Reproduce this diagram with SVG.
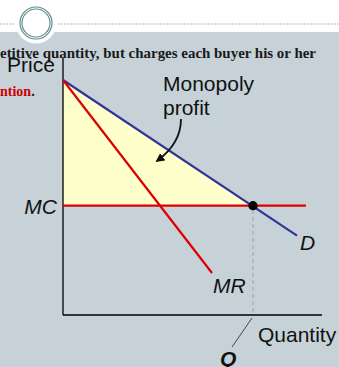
<svg xmlns="http://www.w3.org/2000/svg" width="339" height="367" viewBox="0 0 339 367">
<defs>
<style>
.lbl{font-family:"Liberation Sans",Arial,sans-serif;font-size:21px;fill:#111}
.it{font-style:italic}
.hdr{font-family:"Liberation Serif","Times New Roman",serif;font-weight:bold;font-size:14px;fill:#1a1a1a}
</style>
<marker id="ah" viewBox="0 0 10 10" refX="8" refY="5" markerWidth="5" markerHeight="5" orient="auto">
<path d="M0,0 L10,5 L0,10 z" fill="#111"/>
</marker>
</defs>
<rect x="0" y="0" width="339" height="367" fill="#ffffff"/>
<rect x="0" y="32" width="339" height="335" fill="#c6d1d8"/>
<g id="header">
<line x1="0" y1="24" x2="14" y2="24" stroke="#a9bdbf" stroke-width="1" stroke-dasharray="2,1"/>
<line x1="58" y1="24" x2="339" y2="24" stroke="#a9bdbf" stroke-width="1" stroke-dasharray="2,1"/>
<circle cx="36" cy="23" r="20.5" fill="#ffffff"/>
<circle cx="36" cy="23" r="16" fill="none" stroke="#5f8d8d" stroke-width="1.2"/>
<circle cx="36" cy="23" r="14" fill="none" stroke="#5f8d8d" stroke-width="1.2"/>
<text class="hdr" x="0" y="58" textLength="316" lengthAdjust="spacingAndGlyphs">etitive quantity, but charges each buyer his or her</text>
<text class="hdr" x="0" y="96" font-size="15"><tspan fill="#cc0000">ntion</tspan>.</text>
</g>
<g id="profit-area">
<polygon points="63,80 252,205.7 63,205.7" fill="#ffffcc"/>
</g>
<g id="connectors">
<line x1="253" y1="210" x2="253" y2="315" stroke="#9aa4ab" stroke-width="1" stroke-dasharray="4,3"/>
<line x1="63" y1="58" x2="63" y2="315" stroke="#000" stroke-width="1.3"/>
<line x1="63" y1="315" x2="322" y2="315" stroke="#000" stroke-width="1.3"/>
<line id="D" x1="63" y1="80" x2="297" y2="235.7" stroke="#333399" stroke-width="2.2"/>
<line id="MR" x1="63" y1="80" x2="212" y2="273" stroke="#dd0000" stroke-width="2.2"/>
<line id="MC" x1="63" y1="205.7" x2="306" y2="205.7" stroke="#dd0000" stroke-width="2.2"/>
<line x1="252" y1="318" x2="232" y2="347" stroke="#222" stroke-width="0.8"/>
<path d="M181,119 C181,136 172,150 157,161" fill="none" stroke="#111" stroke-width="1.8" marker-end="url(#ah)"/>
</g>
<g id="equilibrium">
<circle cx="253" cy="205.7" r="4.6" fill="#000"/>
</g>
<g id="labels">
<text class="lbl" x="7" y="72">Price</text>
<text class="lbl" x="163" y="91">Monopoly</text>
<text class="lbl" x="163" y="115">profit</text>
<text class="lbl it" x="57" y="214" text-anchor="end">MC</text>
<text class="lbl it" x="300" y="250">D</text>
<text class="lbl it" x="213" y="293">MR</text>
<text class="lbl" x="258" y="342">Quantity</text>
<text class="lbl it" x="220" y="366" font-weight="bold">Q</text>
</g>
</svg>
